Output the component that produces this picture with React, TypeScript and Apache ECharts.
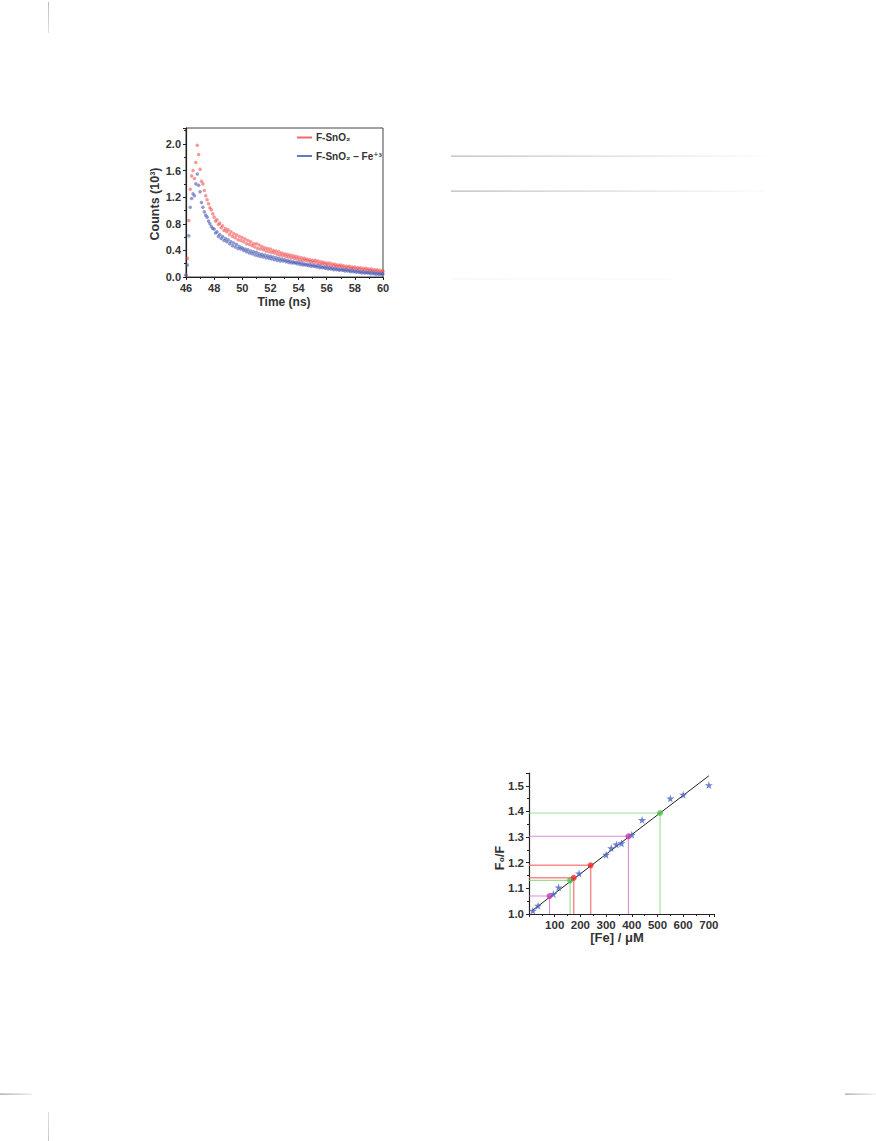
import React, { useEffect, useRef } from "react";
import * as echarts from "echarts";

// ---- Top chart: fluorescence decay (counts in 10^3) ----
const TIME_START = 46.0;
const TIME_STEP = 0.1;
const COUNTS_SNO2 = [
  0.03, 0.28, 0.85, 1.32, 1.52, 1.6, 1.48, 1.72, 1.98, 1.84,
  1.62, 1.44, 1.4, 1.3, 1.22, 1.16, 1.1, 1.04, 1.01, 0.95,
  0.9, 0.84, 0.86, 0.79, 0.81, 0.74, 0.77, 0.7, 0.73, 0.68,
  0.71, 0.64, 0.68, 0.61, 0.65, 0.59, 0.63, 0.56, 0.61, 0.55,
  0.59, 0.53, 0.57, 0.5, 0.55, 0.49, 0.53, 0.47, 0.5, 0.45,
  0.5, 0.43, 0.48, 0.42, 0.46, 0.41, 0.44, 0.39, 0.43, 0.38,
  0.42, 0.37, 0.4, 0.36, 0.39, 0.34, 0.38, 0.33, 0.36, 0.32,
  0.35, 0.31, 0.34, 0.3, 0.33, 0.29, 0.32, 0.28, 0.31, 0.27,
  0.3, 0.26, 0.29, 0.25, 0.28, 0.25, 0.27, 0.24, 0.26, 0.23,
  0.25, 0.22, 0.25, 0.21, 0.24, 0.2, 0.23, 0.2, 0.22, 0.19,
  0.21, 0.18, 0.21, 0.17, 0.2, 0.17, 0.19, 0.16, 0.18, 0.16,
  0.18, 0.15, 0.17, 0.14, 0.16, 0.14, 0.16, 0.13, 0.15, 0.13,
  0.15, 0.12, 0.14, 0.12, 0.14, 0.11, 0.13, 0.11, 0.13, 0.1,
  0.12, 0.1, 0.12, 0.09, 0.11, 0.09, 0.11, 0.08, 0.1, 0.08,
  0.09,
];
const COUNTS_SNO2_FE = [
  0.03, 0.18, 0.62, 1.05, 1.18, 1.25, 1.22, 1.4, 1.55, 1.38,
  1.28, 1.12, 1.05, 0.98, 0.93, 0.9, 0.84, 0.8, 0.76, 0.73,
  0.72, 0.66, 0.68, 0.61, 0.64, 0.58, 0.61, 0.55, 0.58, 0.53,
  0.56, 0.5, 0.53, 0.47, 0.51, 0.45, 0.49, 0.43, 0.46, 0.42,
  0.44, 0.4, 0.42, 0.38, 0.41, 0.36, 0.39, 0.35, 0.38, 0.33,
  0.37, 0.32, 0.35, 0.31, 0.34, 0.3, 0.33, 0.29, 0.32, 0.28,
  0.31, 0.27, 0.3, 0.26, 0.29, 0.25, 0.28, 0.24, 0.27, 0.24,
  0.26, 0.23, 0.25, 0.22, 0.24, 0.21, 0.23, 0.21, 0.22, 0.2,
  0.22, 0.19, 0.21, 0.18, 0.2, 0.18, 0.19, 0.17, 0.19, 0.16,
  0.18, 0.16, 0.17, 0.15, 0.17, 0.14, 0.16, 0.14, 0.15, 0.13,
  0.15, 0.12, 0.14, 0.12, 0.13, 0.11, 0.13, 0.11, 0.12, 0.1,
  0.12, 0.1, 0.11, 0.09, 0.11, 0.09, 0.1, 0.08, 0.1, 0.08,
  0.09, 0.07, 0.09, 0.07, 0.08, 0.06, 0.08, 0.06, 0.07, 0.06,
  0.07, 0.05, 0.07, 0.05, 0.06, 0.04, 0.06, 0.04, 0.05, 0.04,
  0.05,
];
const TIME_TICKS = [46, 48, 50, 52, 54, 56, 58, 60];
const COUNT_TICKS = [0, 0.4, 0.8, 1.2, 1.6, 2.0];

// ---- Bottom chart: Stern-Volmer plot ----
const FE_CONC = [15, 35, 95, 115, 195, 300, 320, 340, 360, 400, 440, 550, 600, 700];
const F0_F = [1.013, 1.032, 1.078, 1.104, 1.158, 1.231, 1.257, 1.271, 1.276, 1.309, 1.367, 1.451, 1.465, 1.503];
const FIT_X = [12, 700];
const FIT_Y = [1.013, 1.539];
const MARK_X = [80, 160, 174, 240, 387, 510];
const MARK_Y = [1.07, 1.131, 1.141, 1.19, 1.303, 1.394];
const MARK_KIND = ["magenta", "green", "red", "red", "magenta", "green"];

const STAR =
  "path://M50,0 L61,35 L98,35 L68,57 L79,91 L50,70 L21,91 L32,57 L2,35 L39,35 Z";

const FONT = "'Liberation Sans', Arial, 'DejaVu Sans', sans-serif";

export default function App() {
  const ref = useRef<HTMLDivElement>(null);
  useEffect(() => {
    if (!ref.current) return;
    const chart = echarts.init(ref.current, undefined, { renderer: "svg" });

    const decayA = COUNTS_SNO2.map((v, i) => [+(TIME_START + i * TIME_STEP).toFixed(2), v]);
    const decayB = COUNTS_SNO2_FE.map((v, i) => [+(TIME_START + i * TIME_STEP).toFixed(2), v]);

    const pointColor: Record<string, string> = {
      magenta: "#c43fb8",
      green: "#4fc64a",
      red: "#f02a2a",
    };
    const lineColor: Record<string, string> = {
      magenta: "rgba(214,110,206,0.8)",
      green: "rgba(130,214,120,0.8)",
      red: "rgba(244,110,110,0.8)",
    };

    const dropSeries = MARK_X.map((x, i) => ({
      type: "line",
      xAxisIndex: 1,
      yAxisIndex: 1,
      data: [
        [0, MARK_Y[i]],
        [x, MARK_Y[i]],
        [x, 1.0],
      ],
      symbol: "none",
      lineStyle: { color: lineColor[MARK_KIND[i]], width: MARK_KIND[i] === "red" ? 1.5 : 1.1 },
      z: 2,
      silent: true,
    }));

    const axisLabelStyle = {
      fontFamily: FONT,
      fontWeight: "bold" as const,
      fontSize: 11,
      color: "#333",
    };

    const pageLine = (x: number, y: number, w: number, h: number, c0: string, c1: string) => ({
      type: "rect",
      shape: { x, y, width: w, height: h },
      style: {
        fill: new echarts.graphic.LinearGradient(0, 0, w >= h ? 1 : 0, w >= h ? 0 : 1, [
          { offset: 0, color: c0 },
          { offset: 1, color: c1 },
        ]),
      },
      silent: true,
    });

    chart.setOption({
      animation: false,
      backgroundColor: "#ffffff",
      grid: [
        {
          left: 186,
          top: 128,
          width: 197,
          height: 149,
          show: true,
          borderColor: "#444",
          borderWidth: 1,
          backgroundColor: "transparent",
        },
        { left: 529, top: 773, width: 185, height: 141 },
      ],
      xAxis: [
        {
          gridIndex: 0,
          type: "value",
          min: TIME_TICKS[0],
          max: TIME_TICKS[TIME_TICKS.length - 1],
          interval: 2,
          axisLine: { show: true, lineStyle: { color: "#222", width: 1.2 } },
          axisTick: { show: true, inside: false, length: 3, lineStyle: { color: "#222" } },
          minorTick: { show: true, splitNumber: 2, length: 2, lineStyle: { color: "#222" } },
          splitLine: { show: false },
          axisLabel: { ...axisLabelStyle, margin: 5 },
        },
        {
          gridIndex: 1,
          type: "value",
          min: 0,
          max: 720,
          interval: 100,
          axisLine: { show: true, lineStyle: { color: "#222", width: 1.2 } },
          axisTick: { show: true, inside: false, length: 3, lineStyle: { color: "#222" } },
          minorTick: { show: true, splitNumber: 2, length: 2, lineStyle: { color: "#222" } },
          splitLine: { show: false },
          axisLabel: {
            ...axisLabelStyle,
            fontSize: 11.5,
            margin: 5,
            showMaxLabel: false,
            formatter: (v: number) => (v === 0 || v > 700 ? "" : String(v)),
          },
        },
      ],
      yAxis: [
        {
          gridIndex: 0,
          type: "value",
          min: 0,
          max: 2.24,
          interval: 0.4,
          axisLine: { show: true, lineStyle: { color: "#222", width: 1.2 } },
          axisTick: { show: true, inside: false, length: 3, lineStyle: { color: "#222" } },
          minorTick: { show: true, splitNumber: 2, length: 2, lineStyle: { color: "#222" } },
          splitLine: { show: false },
          axisLabel: {
            ...axisLabelStyle,
            margin: 5,
            showMaxLabel: false,
            formatter: (v: number) =>
              COUNT_TICKS.some((t) => Math.abs(t - v) < 1e-6) ? v.toFixed(1) : "",
          },
        },
        {
          gridIndex: 1,
          type: "value",
          min: 1.0,
          max: 1.55,
          interval: 0.1,
          axisLine: { show: true, lineStyle: { color: "#222", width: 1.2 } },
          axisTick: { show: true, inside: false, length: 3, lineStyle: { color: "#222" } },
          minorTick: { show: true, splitNumber: 2, length: 2, lineStyle: { color: "#222" } },
          splitLine: { show: false },
          axisLabel: {
            ...axisLabelStyle,
            fontSize: 11.5,
            margin: 5,
            showMaxLabel: false,
            formatter: (v: number) => (v > 1.51 ? "" : v.toFixed(1)),
          },
        },
      ],
      series: [
        {
          name: "F-SnO2 - Fe+3",
          type: "scatter",
          xAxisIndex: 0,
          yAxisIndex: 0,
          data: decayB,
          symbol: "circle",
          symbolSize: 3.5,
          itemStyle: { color: "rgba(70,88,180,0.75)" },
          z: 3,
        },
        {
          name: "F-SnO2",
          type: "scatter",
          xAxisIndex: 0,
          yAxisIndex: 0,
          data: decayA,
          symbol: "circle",
          symbolSize: 3.5,
          itemStyle: { color: "rgba(240,72,72,0.7)" },
          z: 2,
        },
        ...dropSeries,
        {
          type: "line",
          xAxisIndex: 1,
          yAxisIndex: 1,
          data: FIT_X.map((x, i) => [x, FIT_Y[i]]),
          symbol: "none",
          lineStyle: { color: "#222", width: 1 },
          z: 3,
        },
        {
          type: "scatter",
          xAxisIndex: 1,
          yAxisIndex: 1,
          data: FE_CONC.map((x, i) => [x, F0_F[i]]),
          symbol: STAR,
          symbolSize: 8,
          itemStyle: { color: "#4a62c0" },
          z: 4,
        },
        {
          type: "scatter",
          xAxisIndex: 1,
          yAxisIndex: 1,
          data: MARK_X.map((x, i) => ({
            value: [x, MARK_Y[i]],
            itemStyle: { color: pointColor[MARK_KIND[i]] },
          })),
          symbol: "circle",
          symbolSize: 6,
          z: 5,
        },
      ],
      graphic: [
        // page decorations
        pageLine(48, 2, 1, 31, "#bdbdbd", "#e0e0e0"),
        pageLine(0, 1093.5, 32, 1.2, "#9a9a9a", "#e8e8e8"),
        pageLine(48, 1112, 1, 29, "#e0e0e0", "#c8c8c8"),
        pageLine(845, 1093.5, 31, 1.2, "#9a9a9a", "#eeeeee"),
        pageLine(451, 155.5, 314, 1.2, "#b8b8b8", "#fbfbfb"),
        pageLine(451, 190.5, 314, 1.2, "#b8b8b8", "#fbfbfb"),
        pageLine(451, 278.5, 222, 1, "#f3f3f3", "#f8f8f8"),
        // top chart legend
        {
          type: "line",
          shape: { x1: 297, y1: 137.5, x2: 312, y2: 137.5 },
          style: { stroke: "#f06868", lineWidth: 2 },
        },
        {
          type: "text",
          x: 316,
          y: 137.5,
          style: {
            text: "F-SnO₂",
            fontFamily: FONT,
            fontWeight: "bold",
            fontSize: 10,
            fill: "#333",
            verticalAlign: "middle",
          },
        },
        {
          type: "line",
          shape: { x1: 297, y1: 156, x2: 312, y2: 156 },
          style: { stroke: "#6878c0", lineWidth: 2 },
        },
        {
          type: "text",
          x: 316,
          y: 156,
          style: {
            text: "F-SnO₂ – Fe⁺³",
            fontFamily: FONT,
            fontWeight: "bold",
            fontSize: 10,
            fill: "#333",
            verticalAlign: "middle",
          },
        },
        // top chart axis titles
        {
          type: "text",
          x: 155,
          y: 204,
          rotation: Math.PI / 2,
          style: {
            text: "Counts (10³)",
            fontFamily: FONT,
            fontWeight: "bold",
            fontSize: 12.5,
            fill: "#333",
            align: "center",
            verticalAlign: "middle",
          },
        },
        {
          type: "text",
          x: 284,
          y: 302,
          style: {
            text: "Time (ns)",
            fontFamily: FONT,
            fontWeight: "bold",
            fontSize: 12,
            fill: "#333",
            align: "center",
            verticalAlign: "middle",
          },
        },
        // bottom chart axis titles
        {
          type: "text",
          x: 500,
          y: 858,
          rotation: Math.PI / 2,
          style: {
            text: "F₀/F",
            fontFamily: FONT,
            fontWeight: "bold",
            fontSize: 12.5,
            fill: "#333",
            align: "center",
            verticalAlign: "middle",
          },
        },
        {
          type: "text",
          x: 617,
          y: 937,
          style: {
            text: "[Fe] / μM",
            fontFamily: FONT,
            fontWeight: "bold",
            fontSize: 13,
            fill: "#333",
            align: "center",
            verticalAlign: "middle",
          },
        },
      ],
    });
    return () => chart.dispose();
  }, []);

  return (
    <div
      ref={ref}
      style={{ position: "absolute", left: 0, top: 0, width: 876, height: 1141, background: "#fff" }}
    />
  );
}
